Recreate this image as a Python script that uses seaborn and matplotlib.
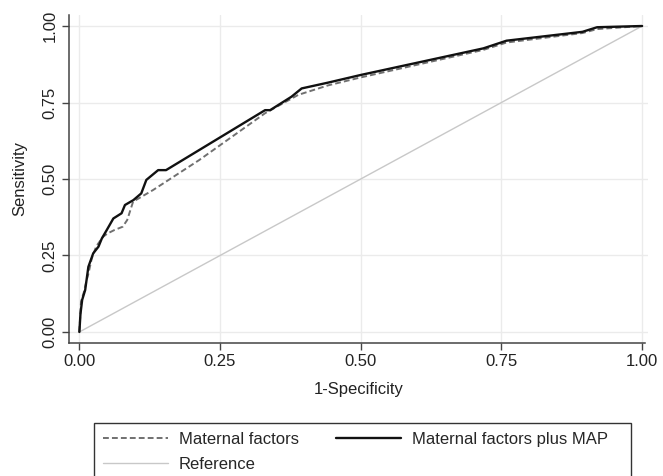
import pandas as pd
import matplotlib
matplotlib.use("Agg")
import matplotlib.pyplot as plt
from matplotlib.patches import Rectangle
import seaborn as sns

# courbes ROC
fpr_maternal = [0.0, 0.003, 0.008, 0.013, 0.016, 0.022, 0.030, 0.042, 0.050, 0.062,
                0.077, 0.085, 0.0955, 0.131, 0.213, 0.330, 0.389, 0.442, 0.500,
                0.718, 0.759, 0.894, 0.920, 1.0]
tpr_maternal = [0.0, 0.10, 0.13, 0.17, 0.19, 0.24, 0.28, 0.311, 0.322, 0.333,
                0.344, 0.366, 0.426, 0.464, 0.562, 0.715, 0.775, 0.806, 0.832,
                0.922, 0.946, 0.977, 0.990, 1.0]

fpr_map = [0.0, 0.002, 0.005, 0.0103, 0.016, 0.0246, 0.034, 0.040, 0.0486, 0.0604,
           0.075, 0.081, 0.096, 0.110, 0.119, 0.140, 0.154, 0.330, 0.339, 0.377,
           0.395, 0.442, 0.500, 0.718, 0.759, 0.894, 0.920, 1.0]
tpr_map = [0.0, 0.06, 0.105, 0.137, 0.213, 0.257, 0.279, 0.306, 0.333, 0.371,
           0.388, 0.415, 0.431, 0.453, 0.497, 0.529, 0.529, 0.725, 0.725, 0.769,
           0.796, 0.815, 0.840, 0.927, 0.952, 0.981, 0.996, 1.0]

ref_x = [0.0, 1.0]
ref_y = [0.0, 1.0]

df_maternal = pd.DataFrame({"fpr": fpr_maternal, "tpr": tpr_maternal})
df_map = pd.DataFrame({"fpr": fpr_map, "tpr": tpr_map})
df_ref = pd.DataFrame({"fpr": ref_x, "tpr": ref_y})

sns.set_style("whitegrid", {"grid.color": "#ebebeb", "axes.edgecolor": "#444444"})
plt.rcParams["font.family"] = ["Liberation Sans", "DejaVu Sans"]

fig = plt.figure(figsize=(6.63, 4.76), dpi=100)
ax = fig.add_axes([0.104, 0.2794, 0.873, 0.6891])

sns.lineplot(data=df_ref, x="fpr", y="tpr", ax=ax, color="#c8c8c8", lw=1,
             sort=False, estimator=None, label="Reference")
sns.lineplot(data=df_maternal, x="fpr", y="tpr", ax=ax, color="#707070", lw=1.4,
             linestyle=(0, (3, 1.6)), sort=False, estimator=None, label="Maternal factors")
sns.lineplot(data=df_map, x="fpr", y="tpr", ax=ax, color="#111111", lw=1.7,
             sort=False, estimator=None, label="Maternal factors plus MAP")

ticks = [0, 0.25, 0.5, 0.75, 1.0]
ax.set_xlim(-0.0185, 1.01)
ax.set_ylim(-0.036, 1.036)
ax.set_xticks(ticks)
ax.set_yticks(ticks)
ax.set_xticklabels([f"{t:.2f}" for t in ticks])
ax.set_yticklabels([f"{t:.2f}" for t in ticks], rotation=90, va="center")
ax.tick_params(axis="both", which="major", length=5, width=1, color="#444444",
               labelsize=12, labelcolor="#222222", pad=3, direction="out")
ax.tick_params(left=True, bottom=True)
ax.grid(True, lw=1)
for side in ["top", "right"]:
    ax.spines[side].set_visible(False)
for side in ["left", "bottom"]:
    ax.spines[side].set_linewidth(1.1)
ax.spines["bottom"].set_bounds(-0.0185, 1.005)

ax.set_xlabel("1-Specificity", fontsize=12, color="#222222", labelpad=9)
ax.set_ylabel("Sensitivity", fontsize=12, color="#222222", labelpad=11)

# légende sans cadre, le cadre est dessiné à part (plus large, comme dans Stata)
handles, labels = ax.get_legend_handles_labels()
order = [1, 0, 2]
ax.legend([handles[i] for i in order], [labels[i] for i in order],
          ncol=2, loc="upper left", bbox_to_anchor=(94 / 663, 1 - 423 / 476),
          bbox_transform=fig.transFigure, frameon=False, fontsize=12,
          handlelength=3.9, handletextpad=0.65, columnspacing=2.2,
          labelspacing=0.58, borderpad=0.55, borderaxespad=0)
fig.patches.append(Rectangle((94 / 663, -0.05), (631 - 94) / 663, 0.05 + 1 - 423 / 476,
                             transform=fig.transFigure, fill=False,
                             edgecolor="#333333", lw=1.0))

fig.savefig("out.png", dpi=100)
